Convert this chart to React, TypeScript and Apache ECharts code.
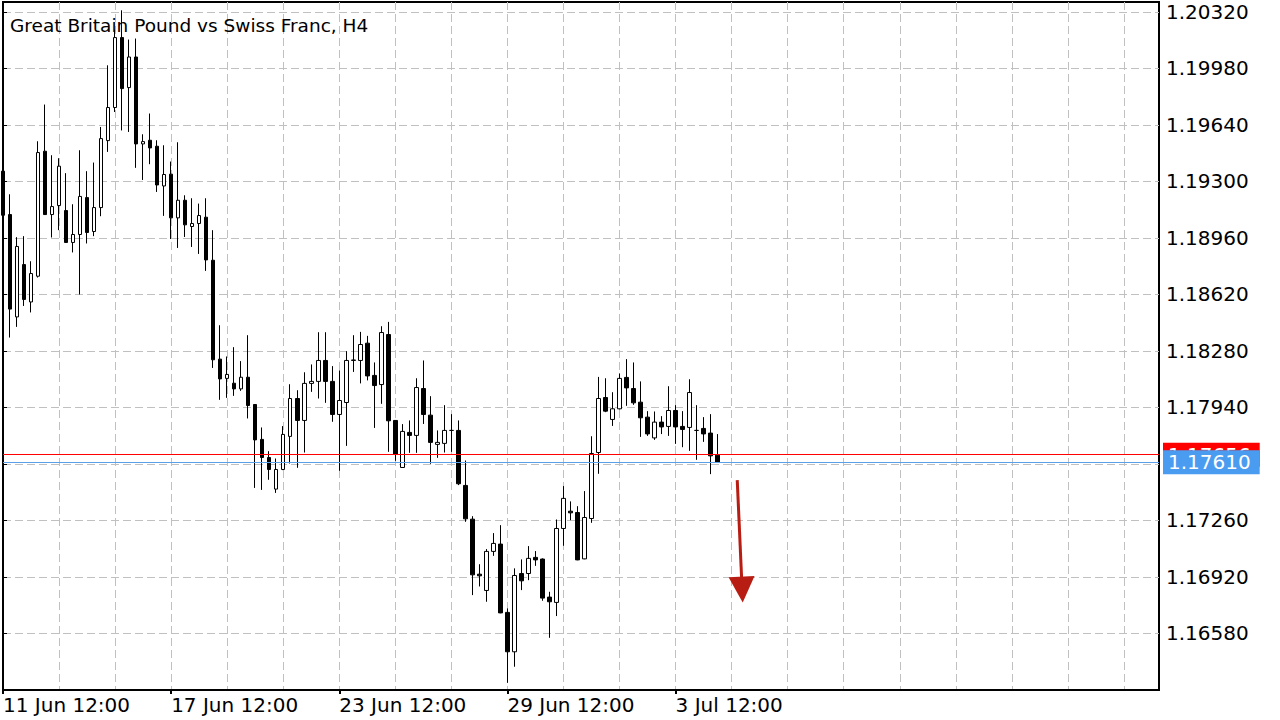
import React, { useEffect, useRef } from 'react';
import * as echarts from 'echarts';

// H4 sessions, the chart starts at 11 Jun 12:00
const tradingDays = ['11 Jun', '12 Jun', '15 Jun', '16 Jun', '17 Jun', '18 Jun', '19 Jun', '22 Jun', '23 Jun',
  '24 Jun', '25 Jun', '26 Jun', '29 Jun', '30 Jun', '1 Jul', '2 Jul', '3 Jul', '6 Jul'];
const sessionHours = ['00:00', '04:00', '08:00', '12:00', '16:00', '20:00'];
const firstSession = 3;
const barCount = 103;
const axisSlots = 166; // empty space right of the last bar

const opens = [
  1.19362, 1.19101, 1.18485, 1.18800, 1.18575, 1.18730, 1.19482, 1.19101, 1.19155, 1.19125,
  1.18933, 1.18981, 1.19203, 1.18999, 1.19143, 1.19546, 1.19745, 1.20166, 1.19865, 1.20049,
  1.19526, 1.19548, 1.19512, 1.19273, 1.19344, 1.19081, 1.19187, 1.19029, 1.19047, 1.19085,
  1.18826, 1.18231, 1.18115, 1.18086, 1.18052, 1.18122, 1.17958, 1.17748, 1.17639, 1.17449,
  1.17567, 1.17766, 1.17994, 1.17862, 1.18085, 1.18097, 1.18223, 1.18097, 1.17898, 1.17970,
  1.18223, 1.18223, 1.18327, 1.18133, 1.18078, 1.18379, 1.17862, 1.17579, 1.17790, 1.17772,
  1.18054, 1.17894, 1.17718, 1.17724, 1.17802, 1.17802, 1.17471, 1.17268, 1.16937, 1.16839,
  1.17074, 1.17118, 1.16707, 1.16470, 1.16941, 1.16941, 1.17038, 1.17028, 1.16799, 1.16767,
  1.17212, 1.17316, 1.17308, 1.17029, 1.17272, 1.17669, 1.18000, 1.17868, 1.17932, 1.18121,
  1.18054, 1.17972, 1.17882, 1.17757, 1.17852, 1.17826, 1.17922, 1.17826, 1.17820, 1.17802,
  1.17814, 1.17786, 1.17653,
];
const closes = [
  1.19097, 1.18532, 1.18909, 1.18590, 1.18746, 1.19474, 1.19101, 1.19149, 1.19392, 1.18933,
  1.18981, 1.19210, 1.18993, 1.19143, 1.19558, 1.19745, 1.20166, 1.19859, 1.20049, 1.19526,
  1.19540, 1.19502, 1.19279, 1.19342, 1.19081, 1.19187, 1.19039, 1.19047, 1.19095, 1.18828,
  1.18227, 1.18112, 1.18139, 1.18052, 1.18122, 1.17952, 1.17745, 1.17639, 1.17567, 1.17567,
  1.17778, 1.17994, 1.17862, 1.18085, 1.18097, 1.18223, 1.18097, 1.17898, 1.17982, 1.18223,
  1.18226, 1.18319, 1.18130, 1.18072, 1.18391, 1.17860, 1.17657, 1.17796, 1.17772, 1.18060,
  1.17898, 1.17730, 1.17730, 1.17802, 1.17802, 1.17481, 1.17270, 1.16933, 1.16927, 1.17074,
  1.17122, 1.16704, 1.16470, 1.16929, 1.16897, 1.17032, 1.17023, 1.16793, 1.16771, 1.17212,
  1.17393, 1.17306, 1.17023, 1.17278, 1.17663, 1.17994, 1.17918, 1.17932, 1.18115, 1.18058,
  1.17968, 1.17878, 1.17781, 1.17852, 1.17823, 1.17922, 1.17823, 1.17808, 1.18030, 1.17802,
  1.17781, 1.17649, 1.17610,
];
const lows = [
  1.19085, 1.18361, 1.18425, 1.18551, 1.18512, 1.18722, 1.19099, 1.18963, 1.19007, 1.18931,
  1.18873, 1.18620, 1.18927, 1.18971, 1.19091, 1.19478, 1.19718, 1.19607, 1.19598, 1.19382,
  1.19309, 1.19404, 1.19237, 1.19093, 1.18954, 1.18900, 1.18966, 1.18906, 1.18864, 1.18762,
  1.18178, 1.17986, 1.17998, 1.18010, 1.18040, 1.17874, 1.17456, 1.17444, 1.17505, 1.17426,
  1.17563, 1.17603, 1.17577, 1.17669, 1.18034, 1.17994, 1.17968, 1.17854, 1.17559, 1.17709,
  1.18154, 1.18085, 1.18103, 1.17817, 1.17962, 1.17673, 1.17619, 1.17577, 1.17667, 1.17667,
  1.17841, 1.17601, 1.17637, 1.17669, 1.17673, 1.17473, 1.17252, 1.16811, 1.16863, 1.16771,
  1.17047, 1.16702, 1.16283, 1.16380, 1.16841, 1.16901, 1.16987, 1.16777, 1.16554, 1.16685,
  1.17108, 1.17262, 1.17021, 1.17027, 1.17246, 1.17541, 1.17912, 1.17829, 1.17928, 1.17950,
  1.17956, 1.17763, 1.17769, 1.17745, 1.17780, 1.17769, 1.17721, 1.17701, 1.17679, 1.17625,
  1.17733, 1.17539, 1.17607,
];
const highs = [
  1.19380, 1.19223, 1.18965, 1.18971, 1.18820, 1.19542, 1.19763, 1.19458, 1.19440, 1.19350,
  1.19163, 1.19488, 1.19362, 1.19414, 1.19628, 1.19999, 1.20214, 1.20330, 1.20154, 1.20160,
  1.19584, 1.19709, 1.19548, 1.19518, 1.19420, 1.19536, 1.19217, 1.19199, 1.19167, 1.19199,
  1.19007, 1.18435, 1.18247, 1.18303, 1.18219, 1.18375, 1.17960, 1.17820, 1.17677, 1.17633,
  1.17828, 1.18080, 1.18044, 1.18152, 1.18199, 1.18393, 1.18393, 1.18189, 1.18163, 1.18279,
  1.18375, 1.18395, 1.18371, 1.18211, 1.18429, 1.18455, 1.17864, 1.17840, 1.17862, 1.18116,
  1.18223, 1.18008, 1.17802, 1.17954, 1.17900, 1.17862, 1.17621, 1.17286, 1.16997, 1.17088,
  1.17184, 1.17232, 1.16731, 1.16972, 1.17026, 1.17106, 1.17076, 1.17032, 1.16831, 1.17266,
  1.17467, 1.17375, 1.17346, 1.17437, 1.17767, 1.18124, 1.18116, 1.18032, 1.18145, 1.18231,
  1.18211, 1.18097, 1.17918, 1.17916, 1.17888, 1.18068, 1.17954, 1.17918, 1.18110, 1.17954,
  1.17882, 1.17900, 1.17780,
];

// price scale
const priceMin = 1.1624;
const priceMax = 1.2038;
const priceStep = 0.0034;
const hiddenTick = 1.176; // covered by the bid label on the terminal

const askPrice = 1.17656;
const bidPrice = 1.1761;

// hand-drawn arrow (bar position, price)
const arrowStart = [104.8, 1.17503];
const arrowEnd = [105.5, 1.16844];

const FONT = 'DejaVu Sans';

const sessions = tradingDays.flatMap((d) => sessionHours.map((h) => `${d} ${h}`));
const categories = sessions
  .slice(firstSession, firstSession + barCount)
  .concat(Array.from({ length: axisSlots - barCount }, () => ''));

export default function App() {
  const chartRef = useRef<HTMLDivElement>(null);

  useEffect(() => {
    const chart = echarts.init(chartRef.current!, null, { renderer: 'svg' });

    const candles = opens.map((o, i) => [o, closes[i], lows[i], highs[i]]);

    // horizontal price line with its box on the price scale
    const priceLine = (price: number, line: string, box: string) => [
      {
        coord: [0, price],
        lineStyle: { color: line, width: 1, type: 'solid' },
        label: {
          show: true,
          position: 'end',
          distance: 4,
          formatter: price.toFixed(5),
          backgroundColor: box,
          color: '#fff',
          padding: [3, 9, 3, 5],
          fontFamily: FONT,
          fontSize: 20,
          lineHeight: 18,
        },
      },
      { coord: [axisSlots - 1, price] },
    ];

    chart.setOption({
      animation: false,
      backgroundColor: '#fff',
      title: {
        text: 'Great Britain Pound vs Swiss Franc, H4',
        left: 5,
        top: 11,
        textStyle: { fontFamily: FONT, fontSize: 18.5, fontWeight: 'normal', color: '#000' },
      },
      grid: {
        left: 2,
        top: 2,
        width: 1157,
        height: 688,
        show: true,
        borderColor: '#000',
        borderWidth: 2,
      },
      xAxis: [
        {
          type: 'category',
          data: categories,
          boundaryGap: false,
          axisLine: { lineStyle: { color: '#000', width: 2 } },
          axisTick: {
            show: true,
            length: 4,
            interval: (i: number) => i % 24 === 0 && i < barCount,
            lineStyle: { color: '#000', width: 2 },
          },
          axisLabel: {
            interval: (i: number) => i % 24 === 0 && i < barCount,
            align: 'left',
            margin: 5,
            color: '#000',
            fontFamily: FONT,
            fontSize: 20,
          },
          splitLine: {
            show: true,
            interval: (i: number) => i > 0 && i % 8 === 0,
            lineStyle: { color: '#c0c0c0', type: [8, 4], width: 1 },
          },
        },
        { type: 'value', min: 0, max: axisSlots - 1, show: false },
      ],
      yAxis: {
        type: 'value',
        position: 'right',
        min: priceMin,
        max: priceMax,
        interval: priceStep,
        axisLine: { show: true, lineStyle: { color: '#000', width: 2 } },
        axisTick: { show: true, length: 4, lineStyle: { color: '#000' } },
        axisLabel: {
          showMinLabel: false,
          showMaxLabel: false,
          margin: 7,
          color: '#000',
          fontFamily: FONT,
          fontSize: 20,
          formatter: (v: number) => (Math.abs(v - hiddenTick) < 1e-7 ? '' : v.toFixed(5)),
        },
        splitLine: {
          showMinLine: false,
          showMaxLine: false,
          lineStyle: { color: '#c0c0c0', type: [8, 4], width: 1 },
        },
      },
      series: [
        {
          type: 'candlestick',
          data: candles,
          barWidth: 4,
          clip: false,
          itemStyle: {
            color: '#fff',
            color0: '#000',
            borderColor: '#000',
            borderColor0: '#000',
            borderWidth: 1,
          },
        },
        {
          // ask / bid lines
          type: 'line',
          xAxisIndex: 1,
          data: [],
          markLine: {
            silent: true,
            symbol: ['none', 'none'],
            data: [
              priceLine(askPrice, '#ff0000', '#ff0000'),
              priceLine(bidPrice, '#5b9fe8', '#4a9cf0'),
            ],
          },
        },
        {
          // arrow drawn on the chart
          type: 'line',
          xAxisIndex: 1,
          data: [],
          markLine: {
            silent: true,
            symbol: ['none', 'triangle'],
            symbolSize: 26,
            label: { show: false },
            lineStyle: { color: '#b81d13', width: 3, type: 'solid' },
            itemStyle: { color: '#b81d13' },
            data: [[{ coord: arrowStart }, { coord: arrowEnd }]],
          },
        },
      ],
    });

    return () => {
      chart.dispose();
    };
  }, []);

  return (
    <div
      ref={chartRef}
      style={{ position: 'absolute', left: 0, top: 0, width: '1280px', height: '720px', background: '#fff' }}
    />
  );
}
